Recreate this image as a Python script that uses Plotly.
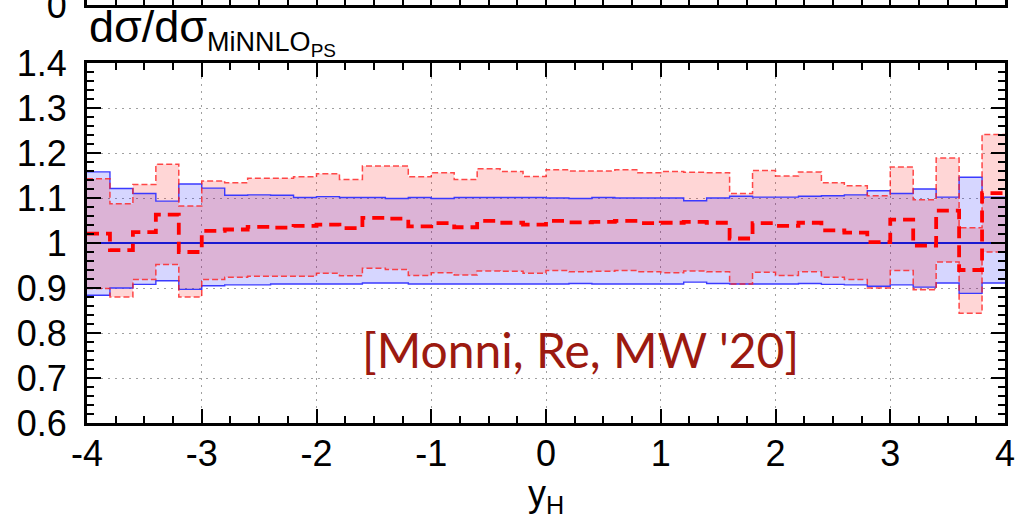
import plotly.graph_objects as go

# y_H bin edges: 40 bins of width 0.2 between -4 and 4
bin_edges = [round(-4 + 0.2 * i, 1) for i in range(41)]

# MiNNLO_PS reference (ratio to itself) and its scale-uncertainty band
minnlo_ratio = [1.0, 1.0, 1.0, 1.0, 1.0, 1.0, 1.0, 1.0, 1.0, 1.0,
                1.0, 1.0, 1.0, 1.0, 1.0, 1.0, 1.0, 1.0, 1.0, 1.0,
                1.0, 1.0, 1.0, 1.0, 1.0, 1.0, 1.0, 1.0, 1.0, 1.0,
                1.0, 1.0, 1.0, 1.0, 1.0, 1.0, 1.0, 1.0, 1.0, 1.0]
minnlo_hi = [1.158, 1.121, 1.110, 1.093, 1.131, 1.122, 1.106, 1.107, 1.106, 1.101,
             1.103, 1.101, 1.101, 1.099, 1.101, 1.099, 1.101, 1.101, 1.101, 1.101,
             1.100, 1.099, 1.101, 1.100, 1.100, 1.100, 1.094, 1.100, 1.104, 1.102,
             1.102, 1.104, 1.105, 1.107, 1.116, 1.110, 1.120, 1.102, 1.146, 1.102]
minnlo_lo = [0.884, 0.900, 0.908, 0.916, 0.897, 0.905, 0.907, 0.907, 0.909, 0.909,
             0.909, 0.909, 0.911, 0.911, 0.909, 0.909, 0.909, 0.909, 0.909, 0.909,
             0.909, 0.910, 0.909, 0.909, 0.909, 0.909, 0.913, 0.910, 0.909, 0.909,
             0.909, 0.910, 0.908, 0.907, 0.904, 0.907, 0.902, 0.911, 0.888, 0.911]

# Comparison prediction, ratio to MiNNLO_PS, with its band
other_ratio = [1.021, 0.984, 1.024, 1.063, 0.980, 1.027, 1.030, 1.036, 1.034, 1.038,
               1.041, 1.033, 1.056, 1.054, 1.037, 1.044, 1.035, 1.049, 1.045, 1.041,
               1.049, 1.046, 1.047, 1.049, 1.044, 1.045, 1.047, 1.045, 1.010, 1.044,
               1.038, 1.045, 1.028, 1.023, 1.002, 1.052, 0.994, 1.072, 0.940, 1.111]
other_hi = [1.143, 1.087, 1.130, 1.175, 1.082, 1.138, 1.134, 1.144, 1.144, 1.147,
            1.154, 1.141, 1.171, 1.171, 1.147, 1.156, 1.141, 1.165, 1.159, 1.148,
            1.163, 1.160, 1.160, 1.163, 1.156, 1.159, 1.157, 1.156, 1.110, 1.161,
            1.149, 1.158, 1.134, 1.127, 1.105, 1.169, 1.096, 1.189, 1.034, 1.241]
other_lo = [0.899, 0.880, 0.919, 0.952, 0.880, 0.919, 0.924, 0.926, 0.926, 0.926,
            0.933, 0.927, 0.944, 0.941, 0.928, 0.934, 0.929, 0.938, 0.937, 0.933,
            0.939, 0.936, 0.937, 0.939, 0.936, 0.934, 0.938, 0.936, 0.909, 0.935,
            0.928, 0.936, 0.924, 0.919, 0.900, 0.939, 0.896, 0.958, 0.844, 0.980]

x_tickvals = [-4, -3, -2, -1, 0, 1, 2, 3, 4]
x_ticktext = ["-4", "-3", "-2", "-1", "0", "1", "2", "3", "4"]
y_tickvals = [0.6, 0.7, 0.8, 0.9, 1.0, 1.1, 1.2, 1.3, 1.4]
y_ticktext = ["0.6", "0.7", "0.8", "0.9", "1", "1.1", "1.2", "1.3", "1.4"]

BLUE_FILL = "rgba(0,0,255,0.16)"
RED_FILL = "rgba(255,0,0,0.16)"
FONT = "Liberation Sans, Arial, sans-serif"


def steps(vals):
    # repeat the last bin value so the final step reaches the right edge
    return list(vals) + [vals[-1]]


fig = go.Figure()


def band(lo, hi, color):
    fig.add_trace(go.Scatter(x=bin_edges, y=steps(lo), mode="lines", line_shape="hv",
                             line=dict(width=0), hoverinfo="skip", showlegend=False))
    fig.add_trace(go.Scatter(x=bin_edges, y=steps(hi), mode="lines", line_shape="hv",
                             line=dict(width=0), fill="tonexty", fillcolor=color,
                             hoverinfo="skip", showlegend=False))


def step_line(vals, **line):
    fig.add_trace(go.Scatter(x=bin_edges, y=steps(vals), mode="lines", line_shape="hv",
                             line=line, showlegend=False))


band(minnlo_lo, minnlo_hi, BLUE_FILL)
band(other_lo, other_hi, RED_FILL)

step_line(minnlo_lo, color="#3a3aff", width=1.4)
step_line(minnlo_hi, color="#3a3aff", width=1.4)
step_line(other_lo, color="rgba(255,30,30,0.8)", width=1.5, dash="6px,3px")
step_line(other_hi, color="rgba(255,30,30,0.8)", width=1.5, dash="6px,3px")
step_line(minnlo_ratio, color="#1a1ad0", width=2.2)
step_line(other_ratio, color="#ff0000", width=3.8, dash="12px,7px")

# placeholder so the panel above gets its axes drawn
fig.add_trace(go.Scatter(x=[0], y=[-1], xaxis="x2", yaxis="y2", mode="markers",
                         marker=dict(opacity=0), hoverinfo="skip", showlegend=False))

axis_common = dict(
    showline=True, linewidth=3, linecolor="black",
    ticks="inside", tickwidth=2, tickcolor="black",
    zeroline=False, automargin=False,
    tickfont=dict(family=FONT, size=36, color="black"),
)
grid = dict(showgrid=True, griddash="2px,5px", gridcolor="#a0a0a0", gridwidth=1)

fig.update_layout(
    template="none",
    width=1015, height=519,
    margin=dict(l=87, r=10, t=0, b=96, pad=0),
    paper_bgcolor="white", plot_bgcolor="white",
    showlegend=False,
    xaxis=dict(
        domain=[0, 1], range=[-4, 4], anchor="y",
        tickmode="array", tickvals=x_tickvals, ticktext=x_ticktext, ticklen=14,
        mirror="allticks", ticklabelstandoff=-3, ticklabeloverflow="allow",
        minor=dict(tickmode="linear", tick0=-4, dtick=0.25, ticks="inside",
                   ticklen=7, tickwidth=2, tickcolor="black", showgrid=False),
        **grid, **axis_common,
    ),
    yaxis=dict(
        domain=[0, 360 / 423], range=[0.6, 1.4], anchor="x",
        tickmode="array", tickvals=y_tickvals, ticktext=y_ticktext, ticklen=14,
        mirror="allticks", ticklabelstandoff=10, ticklabeloverflow="allow",
        minor=dict(tickmode="linear", tick0=0.6, dtick=0.02, ticks="inside",
                   ticklen=7, tickwidth=2, tickcolor="black", showgrid=False),
        **grid, **axis_common,
    ),
    # bottom edge of the distribution panel above
    xaxis2=dict(
        domain=[0, 1], range=[-4, 4], anchor="y2",
        tickmode="linear", tick0=-4, dtick=0.25, ticklen=14,
        showticklabels=False, showgrid=False, mirror=False,
        **axis_common,
    ),
    yaxis2=dict(
        domain=[418 / 423, 1], range=[0, 1], anchor="x2",
        tickmode="array", tickvals=[0], ticktext=["0"], ticklen=0,
        showgrid=False, mirror=True, ticklabelstandoff=10, ticklabeloverflow="allow",
        **axis_common,
    ),
)

fig.add_annotation(
    text=("dσ/dσ<sub><span style='font-size:27px'>MiNNLO"
          "<sub><span style='font-size:19px'>PS</span></sub></span></sub>"),
    xref="paper", yref="paper", x=0.0, y=360 / 423,
    xanchor="left", yanchor="bottom", showarrow=False,
    font=dict(family=FONT, size=45, color="black"),
)
fig.add_annotation(
    text="y<sub>H</sub>",
    xref="paper", yref="paper", x=0.5, y=(423 - 496) / 423,
    xanchor="center", yanchor="middle", showarrow=False,
    font=dict(family=FONT, size=36, color="black"),
)
fig.add_annotation(
    text="[Monni, Re, MW '20]",
    xref="x", yref="y", x=0.3, y=0.763,
    xanchor="center", yanchor="middle", showarrow=False,
    font=dict(family="Lato, Open Sans, sans-serif", size=48, color="#9c1a10"),
)

fig.write_html("out.html")
